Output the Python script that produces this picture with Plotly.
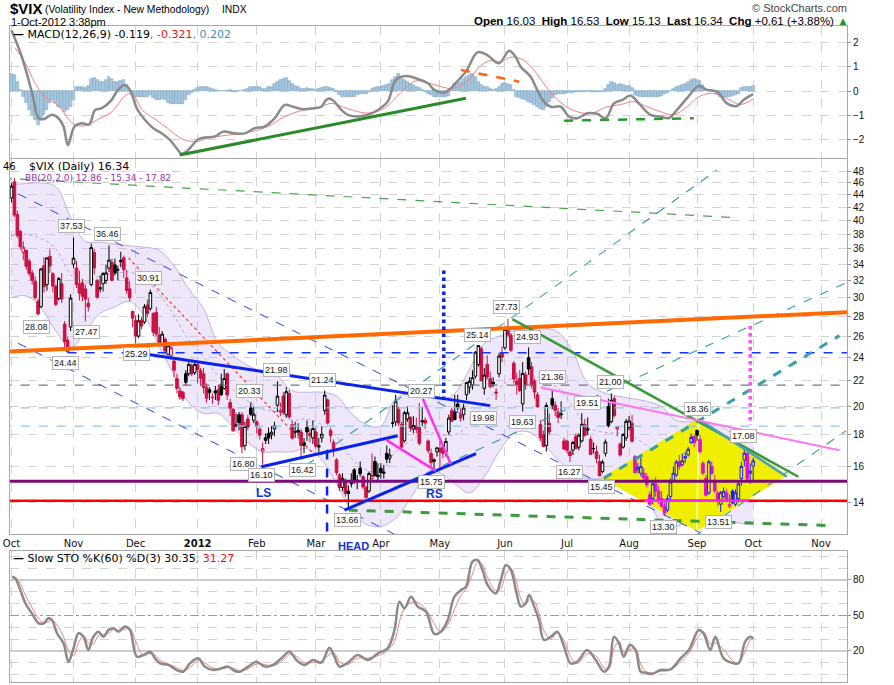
import numpy as np
import plotly.graph_objects as go

# x axis = trading-day number: 0 = 3-Oct-2011 ... 251 = 1-Oct-2012
month_pos = [0, 21, 42, 63, 83, 103, 125, 145, 167, 188, 209, 232, 251, 274]
month_lbl = ['Oct', 'Nov', 'Dec', '<b>2012</b>', 'Feb', 'Mar', 'Apr', 'May',
             'Jun', 'Jul', 'Aug', 'Sep', 'Oct', 'Nov']
price_ticks = list(range(14, 50, 2))

# daily $VIX candles
vix_open = [
    43.5, 46.2, 40.9, 38.4, 35.5, 35.8, 34.4, 32.9, 31.9, 29.6, 29.0, 33.8, 31.5, 35.0, 32.8, 31.3, 29.9, 31.6, 27.2, 25.6, 26.9,
    34.0, 33.5, 31.6, 31.7, 31.0, 29.4, 31.5, 35.5, 32.0, 31.0, 31.6, 32.0, 33.5, 34.2, 33.9, 33.3, 34.3, 34.8, 32.3, 31.0, 28.5,
    27.6, 26.0, 27.6, 27.4, 29.2, 28.8, 28.3, 28.4, 26.1, 25.3, 25.7, 24.3, 24.2, 23.7, 22.2, 21.2, 21.1, 22.6, 22.6, 23.3, 22.7,
    23.4, 22.9, 22.6, 21.5, 21.3, 20.7, 21.2, 21.3, 21.7, 21.4, 22.6, 20.3, 19.8, 18.6, 19.4, 19.4, 17.3, 19.1, 19.9, 19.0,
    18.9, 18.4, 16.9, 17.8, 18.1, 18.0, 18.4, 20.1, 19.6, 20.8, 19.4, 21.0, 18.7, 18.2, 18.3, 18.2, 17.5, 18.5, 18.1, 17.8,
    18.2, 17.2, 17.8, 19.7, 20.5, 18.3, 17.5, 16.4, 15.5, 14.8, 15.2, 14.6, 15.0, 15.8, 15.2, 15.9, 15.4, 14.8, 14.6, 15.3, 16.3, 15.4,
    15.9, 15.6, 16.8, 16.5, 18.8, 18.9, 19.8, 18.7, 17.6, 19.1, 19.2, 18.4, 18.6, 18.5, 18.9, 19.0, 17.6, 16.8, 16.4, 16.9,
    17.1, 17.2, 16.9, 18.2, 19.7, 19.6, 20.2, 19.4, 19.4, 20.9, 21.5, 21.7, 22.4, 23.4, 24.8, 21.4, 23.4, 22.2, 21.9, 21.1, 22.6, 24.4,
    24.9, 26.8, 26.1, 23.5, 22.0, 22.2, 20.2, 22.5, 24.0, 23.2, 22.0, 20.9, 18.7, 18.0, 17.3, 18.8, 20.6, 20.1, 19.6, 19.4, 17.6,
    17.6, 16.9, 17.0, 17.9, 17.2, 17.6, 18.7, 18.4, 17.7, 17.1, 16.9, 16.3, 15.7, 16.8, 20.0, 18.9, 20.6, 18.4, 17.4, 17.2, 17.8,
    18.5, 18.8, 16.6, 15.8, 15.6, 15.6, 15.4, 14.4, 14.2, 15.0, 14.6, 14.2, 13.8, 13.6, 14.3, 15.2, 15.5, 16.3, 16.1, 16.5, 16.7, 17.5, 17.9,
    18.3, 17.7, 16.2, 15.3, 14.5, 16.0, 15.1, 14.5, 13.9, 14.3, 14.5, 13.8, 14.6, 13.9, 14.2, 15.3, 16.4, 16.8, 15.6,
    16.03,
]
vix_high = [
    46.0, 46.88, 41.5, 38.6, 37.0, 35.9, 34.7, 33.3, 32.5, 29.9, 33.5, 34.9, 34.9, 35.9, 33.0, 31.5, 32.4, 32.9, 27.5, 25.9, 30.4,
    37.53, 34.4, 33.2, 32.2, 31.5, 30.0, 36.7, 36.0, 32.2, 32.6, 33.0, 33.9, 36.46, 34.7, 34.7, 33.8, 35.6, 35.1, 33.3, 31.9, 28.6,
    28.1, 28.2, 27.9, 29.3, 29.8, 30.91, 28.4, 29.0, 26.9, 26.5, 25.9, 25.4, 25.2, 23.8, 22.6, 21.5, 21.2, 22.9, 23.6, 23.5, 23.6,
    23.5, 23.1, 23.1, 21.8, 21.5, 21.0, 21.6, 21.7, 22.6, 23.0, 22.7, 20.6, 19.9, 19.5, 19.6, 19.6, 18.9, 19.4, 20.33, 20.0,
    19.0, 18.5, 17.5, 18.1, 18.5, 18.6, 18.9, 21.98, 20.3, 21.1, 21.5, 21.3, 19.0, 18.9, 18.8, 18.4, 17.8, 19.0, 18.4, 19.0,
    18.5, 17.8, 18.6, 21.24, 20.6, 18.5, 17.7, 16.5, 15.6, 15.6, 15.3, 14.9, 15.6, 15.9, 15.5, 16.3, 15.5, 14.9, 15.7, 16.8, 16.6, 16.2,
    16.2, 16.1, 17.3, 17.1, 20.1, 20.9, 20.0, 18.9, 19.7, 20.0, 19.3, 19.3, 19.2, 20.27, 20.0, 19.2, 17.7, 17.1, 16.5, 17.2,
    17.6, 17.4, 17.8, 19.4, 19.9, 20.9, 20.9, 19.9, 20.2, 21.9, 22.3, 22.9, 24.6, 25.14, 25.0, 23.1, 24.2, 22.8, 22.3, 21.4, 24.4, 25.0,
    26.9, 27.73, 26.3, 23.7, 22.7, 22.9, 23.6, 22.8, 24.93, 23.6, 22.2, 21.1, 19.0, 18.3, 20.3, 19.5, 21.36, 20.4, 19.9, 20.4, 17.8,
    17.7, 17.0, 17.6, 18.1, 18.1, 19.51, 19.1, 19.2, 17.9, 17.5, 17.3, 16.7, 16.4, 17.7, 20.6, 21.00, 20.8, 18.6, 17.5, 18.1, 19.1,
    19.3, 19.4, 16.7, 16.2, 16.6, 15.9, 15.6, 14.6, 15.2, 15.4, 14.9, 14.6, 14.0, 14.4, 15.3, 16.0, 16.4, 16.7, 16.8, 16.9, 17.2, 18.1, 18.0,
    18.36, 18.0, 16.3, 15.5, 16.4, 16.3, 15.5, 14.6, 14.6, 14.8, 14.7, 14.4, 14.7, 14.7, 15.1, 16.3, 17.08, 16.9, 16.2,
    16.53,
]
vix_low = [
    42.8, 40.5, 37.5, 35.9, 34.5, 33.3, 32.5, 31.5, 29.8, 28.08, 28.9, 30.6, 30.8, 32.9, 30.6, 29.1, 29.7, 29.4, 24.9, 24.44, 26.5,
    33.5, 31.1, 29.7, 29.6, 27.47, 28.5, 31.3, 32.7, 29.9, 30.6, 30.7, 31.6, 33.0, 32.0, 32.6, 32.0, 33.6, 32.3, 30.4, 29.6, 26.9,
    25.29, 25.8, 26.7, 27.2, 27.9, 28.6, 26.0, 26.0, 25.3, 25.0, 24.4, 24.2, 23.8, 22.3, 21.0, 20.5, 20.4, 21.6, 22.4, 22.4, 22.5,
    21.8, 21.6, 21.0, 20.3, 20.5, 20.2, 20.5, 20.1, 20.8, 21.3, 20.5, 19.3, 18.2, 18.5, 18.3, 16.80, 17.0, 18.3, 19.3, 18.8,
    18.1, 17.7, 16.10, 17.4, 17.4, 17.7, 17.9, 19.6, 19.3, 19.4, 19.2, 19.1, 17.7, 17.8, 17.9, 16.42, 16.8, 17.6, 17.5, 17.4,
    17.1, 16.9, 17.5, 19.4, 18.7, 17.5, 16.6, 15.5, 14.6, 14.6, 14.3, 13.66, 14.8, 15.0, 14.7, 15.4, 14.7, 14.2, 14.5, 15.2, 15.4, 15.1,
    15.3, 15.3, 16.2, 16.2, 18.5, 18.6, 18.6, 17.1, 17.5, 18.9, 18.2, 18.1, 18.1, 17.3, 18.6, 18.4, 16.8, 15.9, 15.75, 16.6,
    15.9, 16.5, 16.6, 18.0, 18.9, 19.3, 19.7, 18.9, 19.0, 20.5, 21.0, 21.3, 22.2, 23.2, 22.0, 20.9, 22.1, 21.4, 21.5, 20.5, 22.3, 23.6,
    24.7, 25.9, 24.5, 21.8, 20.9, 21.1, 19.63, 21.3, 22.5, 21.4, 20.6, 19.9, 17.6, 17.2, 16.9, 18.0, 19.8, 19.3, 18.8, 19.1, 17.0,
    16.8, 16.27, 16.7, 17.1, 17.0, 17.5, 17.9, 18.0, 16.7, 16.8, 16.2, 15.45, 15.6, 16.6, 18.5, 18.8, 19.2, 17.9, 16.6, 17.1, 17.6,
    18.3, 17.5, 15.6, 15.6, 15.4, 15.2, 14.8, 13.8, 13.9, 14.3, 13.9, 13.7, 13.30, 13.5, 14.1, 15.1, 15.4, 15.8, 16.0, 16.2, 16.6, 17.4, 17.2,
    17.6, 16.8, 15.5, 14.3, 14.4, 15.5, 14.5, 13.8, 13.51, 14.2, 14.0, 13.7, 13.9, 13.8, 14.0, 14.9, 16.0, 15.1, 15.0,
    15.13,
]
vix_close = [
    45.45, 40.82, 37.81, 36.27, 36.20, 33.74, 32.86, 32.00, 30.00, 28.24, 33.39, 31.26, 34.78, 33.76, 31.32, 29.26, 32.22, 29.86, 25.46, 24.53, 29.96,
    34.77, 31.50, 30.50, 30.16, 29.85, 29.00, 36.16, 33.50, 30.04, 31.13, 32.82, 32.91, 34.51, 32.00, 32.91, 33.28, 34.47, 33.30, 30.80, 30.00, 27.80,
    26.00, 27.52, 27.00, 29.00, 28.30, 30.59, 26.38, 26.20, 25.40, 26.20, 24.60, 25.10, 24.90, 22.90, 21.40, 20.73, 20.60, 21.90, 23.40, 22.60, 23.40,
    22.97, 22.22, 21.48, 20.63, 21.07, 20.69, 21.05, 20.47, 20.91, 22.20, 20.89, 19.87, 18.28, 18.67, 18.84, 17.22, 18.57, 18.53, 19.44, 19.44,
    18.56, 17.98, 17.10, 17.63, 17.79, 18.18, 18.63, 20.79, 19.70, 19.55, 21.14, 19.24, 17.78, 18.19, 18.19, 17.31, 17.31, 18.19, 17.96, 18.43,
    17.26, 17.29, 18.05, 20.87, 18.81, 17.95, 17.11, 15.64, 14.80, 15.31, 14.47, 14.47, 15.04, 15.13, 15.13, 15.57, 14.82, 14.26, 15.59, 15.47, 15.48, 15.50,
    15.64, 15.66, 16.44, 16.70, 18.81, 20.39, 18.81, 17.20, 19.55, 19.55, 18.46, 18.64, 18.36, 17.44, 18.97, 18.81, 16.97, 16.24, 16.32, 17.15,
    16.88, 16.80, 17.56, 19.16, 18.94, 19.05, 19.89, 19.16, 19.89, 21.87, 21.97, 22.27, 24.49, 25.10, 22.01, 22.48, 22.33, 21.54, 21.76, 21.03, 24.14, 24.06,
    26.66, 26.12, 24.68, 22.16, 21.72, 21.23, 22.63, 21.68, 23.00, 21.68, 21.11, 20.00, 17.80, 17.24, 20.08, 18.20, 20.11, 19.72, 19.20, 19.45, 17.08,
    17.00, 16.66, 17.50, 17.10, 17.98, 18.72, 17.95, 18.33, 16.74, 17.11, 16.48, 15.45, 16.27, 17.53, 18.62, 20.47, 19.34, 18.53, 16.70, 18.03, 18.93,
    18.96, 17.57, 15.64, 15.95, 15.99, 15.32, 14.95, 13.90, 15.00, 14.60, 14.10, 13.80, 13.45, 14.20, 15.11, 15.60, 16.27, 16.00, 16.35, 16.60, 17.06, 17.83, 17.47,
    17.98, 16.90, 15.60, 14.38, 16.28, 15.60, 14.60, 14.05, 14.51, 14.59, 14.18, 13.88, 13.98, 14.51, 15.00, 16.00, 16.81, 15.28, 15.73,
    16.34,
]

# Bollinger Bands (20,2) sampled every 5 sessions
bb_day = list(range(0, 250, 5)) + [251]
bb_upper = [45.7, 45.9, 46.0, 45.4, 40.5, 37.0, 36.9, 36.6, 36.4, 36.2, 35.8, 33.8, 31.0, 28.8, 25.3, 24.2, 23.3,
            22.8, 22.4, 21.2, 21.1, 21.1, 20.8, 19.5, 18.7, 18.6, 20.6, 21.0, 21.0, 20.5, 21.0, 23.0, 25.3, 26.0,
            26.5, 26.8, 26.8, 26.4, 24.5, 21.8, 21.1, 20.8, 20.6, 20.4, 20.0, 19.0, 18.9, 18.8, 18.6, 18.0, 17.82]
bb_mid = [37.8, 38.0, 37.4, 36.0, 32.7, 31.7, 32.6, 32.8, 33.0, 32.1, 30.4, 28.1, 25.6, 24.1, 22.4, 21.3, 20.4,
          19.8, 19.6, 19.0, 19.1, 18.7, 17.9, 16.5, 15.8, 15.7, 16.9, 17.6, 18.2, 18.0, 18.0, 18.7, 20.3, 21.4,
          22.3, 22.5, 22.1, 21.4, 20.0, 18.5, 18.2, 18.1, 17.9, 17.3, 16.5, 15.9, 16.0, 16.1, 15.9, 15.5, 15.34]
bb_lower = [30.0, 30.2, 28.9, 26.5, 24.9, 26.5, 28.3, 29.0, 29.6, 28.0, 25.0, 22.5, 20.3, 19.5, 19.5, 18.5, 17.5,
            16.9, 16.9, 16.9, 17.1, 16.4, 15.0, 13.6, 12.9, 12.8, 13.2, 14.2, 15.4, 15.6, 15.0, 14.5, 15.4, 16.9,
            18.1, 18.2, 17.4, 16.4, 15.6, 15.3, 15.3, 15.5, 15.2, 14.2, 13.0, 12.8, 13.2, 13.4, 13.2, 13.0, 12.86]

# MACD(12,26,9)
macd_day = [0, 3.5, 7.0, 9.2, 10.9, 13.7, 15.9, 17.6, 19.1, 20.4, 21.3, 23.8, 26.3, 28.3, 30.6, 33.9, 35.6, 38.2,
            40.1, 42.4, 45.2, 48.0, 50.8, 53.6, 55.9, 57.6, 59.8, 63.2, 65.4, 68.8, 71.6, 75.6, 78.9, 82.3, 85.7,
            89.1, 92.4, 95.3, 98.6, 102.0, 104.8, 106.5, 107.6, 109.3, 111.6, 113.8, 117.2, 120.6, 124.0, 127.3,
            130.1, 133.5, 137.5, 140.9, 143.1, 146.5, 148.7, 150.2, 153.8, 157.7, 161.0, 165.0, 168.4, 170.6,
            172.3, 175.7, 177.9, 180.2, 182.5, 185.9, 188.7, 191.5, 194.9, 198.2, 201.1, 203.9, 206.7, 209.5,
            212.3, 216.2, 219.6, 222.4, 225.2, 228.6, 232.6, 235.4, 238.8, 242.1, 245.5, 247.7, 251]
macd_val = [2.50, 1.41, -0.09, -1.11, -1.15, -0.97, -1.11, -1.45, -2.22, -1.73, -1.45, -1.32, -1.36, -0.77, -0.70,
            -0.36, -0.02, 0.25, 0.05, -0.70, -1.18, -1.52, -1.73, -2.00, -2.34, -2.57, -2.41, -1.97, -1.90, -1.86,
            -1.66, -1.73, -1.73, -1.52, -1.45, -1.11, -0.57, -0.64, -0.74, -0.70, -0.64, -0.36, -0.30, -0.43, -0.77,
            -0.97, -1.04, -0.97, -0.77, -0.43, 0.46, 0.62, 0.50, 0.32, 0.05, -0.06, 0.12, 0.32, 0.80, 1.59, 1.48,
            1.14, 1.66, 1.41, 1.00, 0.59, 0.05, -0.43, -0.64, -0.64, -1.05, -1.11, -0.91, -0.93, -1.11, -0.50,
            -0.36, -0.18, -0.50, -0.97, -1.04, -1.11, -0.77, -0.29, 0.21, 0.05, -0.02, -0.50, -0.61, -0.36, -0.12]
sig_day = [1.3, 4.7, 8.0, 11.4, 15.9, 21.0, 25.0, 29.4, 33.9, 38.4, 40.7, 44.5, 48.6, 53.1, 57.6, 62.1, 66.6,
           73.3, 78.9, 86.8, 92.4, 98.1, 103.7, 108.2, 113.8, 120.6, 126.2, 131.8, 136.9, 142.0, 148.7, 150.8,
           154.3, 158.8, 162.2, 165.6, 169.5, 173.5, 176.9, 180.2, 184.7, 190.4, 196.0, 201.6, 206.1, 210.6,
           215.1, 219.6, 224.1, 228.6, 233.1, 237.6, 242.1, 246.6, 251.0]
sig_val = [1.76, 1.14, 0.32, -0.25, -0.60, -1.35, -1.42, -1.15, -0.85, -0.20, -0.10, -0.80, -1.15, -1.55, -1.95,
           -2.07, -1.93, -1.80, -1.73, -1.45, -1.05, -0.80, -0.70, -0.50, -0.72, -0.90, -0.70, -0.05, 0.42, 0.30,
           0.10, 0.16, 0.40, 1.05, 1.25, 1.21, 1.40, 1.25, 0.85, 0.30, -0.35, -0.80, -0.91, -0.64, -0.55, -0.43,
           -0.64, -0.84, -0.97, -0.64, -0.20, -0.09, -0.30, -0.55, -0.32]
macd_hist = [
    0.72, 0.66, 0.38, 0.04, -0.23, -0.50, -0.78, -0.98, -1.19, -1.39, -1.19, -0.98, -0.78, -0.50, -0.37, -0.50, -0.64, -0.71, -0.85, -0.78,
    -0.64, -0.37, 0.15, 0.18, 0.15, 0.11, 0.20, 0.48, 0.52, 0.45, 0.38, 0.38, 0.45, 0.56, 0.48, 0.38, 0.38, 0.42, 0.45, 0.25,
    -0.03, -0.16, -0.26, -0.26, -0.23, -0.23, -0.26, -0.16, -0.30, -0.37, -0.37, -0.34, -0.37, -0.48, -0.53, -0.53, -0.53, -0.53, -0.53, -0.37,
    -0.16, -0.07, 0.04, 0.11, 0.15, 0.15, 0.15, 0.11, 0.07, 0.04, 0.01, 0.01, 0.01, 0.01, 0.04, -0.03, -0.03, 0.00, 0.01, 0.04,
    0.10, 0.15, 0.15, 0.18, 0.15, 0.10, 0.07, 0.15, 0.18, 0.29, 0.38, 0.45, 0.48, 0.52, 0.42, 0.31, 0.20, 0.15, 0.07, 0.07,
    0.11, 0.10, 0.07, 0.04, 0.07, 0.11, 0.15, 0.15, 0.12, 0.07, -0.03, -0.16, -0.26, -0.26, -0.26, -0.23, -0.23, -0.16, -0.12, -0.12,
    -0.10, -0.03, 0.07, 0.11, 0.15, 0.15, 0.20, 0.25, 0.31, 0.45, 0.59, 0.70, 0.56, 0.45, 0.38, 0.31, 0.25, 0.15, 0.11, 0.04,
    -0.03, -0.10, -0.16, -0.23, -0.23, -0.23, -0.26, -0.23, -0.20, 0.05, 0.31, 0.34, 0.38, 0.48, 0.59, 0.66, 0.70, 0.56, 0.38, 0.25,
    0.15, 0.15, 0.07, 0.04, 0.07, 0.15, 0.29, 0.34, 0.30, 0.25, 0.04, -0.23, -0.30, -0.34, -0.37, -0.44, -0.50, -0.57, -0.66, -0.72,
    -0.78, -0.64, -0.44, -0.30, -0.16, -0.10, -0.10, -0.10, -0.08, -0.07, -0.07, -0.05, -0.05, -0.04, -0.02, 0.00, -0.02, -0.03, -0.03, -0.02,
    -0.02, 0.10, 0.25, 0.38, 0.34, 0.25, 0.29, 0.25, 0.22, 0.20, 0.11, -0.16, -0.20, -0.23, -0.23, -0.23, -0.23, -0.23, -0.23, -0.23,
    -0.20, -0.10, -0.07, 0.01, 0.10, 0.15, 0.20, 0.25, 0.31, 0.38, 0.45, 0.48, 0.45, 0.42, 0.25, 0.07, 0.04, 0.04, -0.03, -0.16,
    -0.23, -0.26, -0.26, -0.24, -0.20, -0.16, -0.10, 0.11, 0.15, 0.18, 0.19, 0.20,
]

# Slow STO %K(60) %D(3)
sto_day = [0.2, 1.3, 3.0, 4.7, 6.9, 9.2, 10.9, 12.5, 13.7, 15.4, 17.6, 19.3, 21.0, 22.7, 24.4, 26.0, 27.7, 29.4,
           31.1, 32.8, 34.5, 36.2, 38.4, 40.1, 42.4, 44.6, 46.9, 48.6, 50.3, 53.1, 55.9, 58.1, 60.4, 63.2, 65.4,
           68.3, 71.1, 73.3, 75.6, 77.3, 80.1, 82.9, 85.7, 88.5, 91.3, 94.1, 96.4, 99.2, 102.0, 104.8, 107.6,
           109.3, 111.0, 113.8, 117.2, 120.6, 124.0, 127.3, 129.6, 131.3, 133.0, 135.2, 137.5, 140.3, 143.1,
           145.3, 147.6, 149.9, 152.1, 153.8, 156.0, 157.7, 159.4, 161.1, 163.9, 165.6, 167.3, 169.0, 170.7,
           172.4, 174.0, 175.2, 176.9, 178.5, 180.2, 182.5, 184.7, 187.0, 189.2, 191.5, 194.8, 197.7, 200.5,
           202.2, 203.9, 205.6, 207.2, 209.3, 211.2, 212.9, 214.5, 216.8, 219.6, 223.0, 226.4, 229.2, 232.6,
           234.2, 236.5, 238.2, 241.0, 244.4, 246.1, 248.3, 250.0, 251.1]
sto_k = [82.8, 81.4, 71.5, 60.3, 51.8, 43.4, 43.4, 47.6, 46.2, 35.0, 26.5, 11.0, 22.3, 35.0, 32.0, 20.8, 32.0, 36.3,
         32.0, 37.7, 39.2, 36.3, 40.6, 37.7, 15.2, 16.6, 19.4, 13.8, 9.6, 8.2, 3.9, 2.5, 9.6, 13.8, 6.8, 3.9, 5.4,
         6.8, 3.1, 2.5, 6.8, 11.0, 6.8, 8.2, 13.8, 19.4, 12.4, 8.2, 12.4, 10.1, 22.8, 15.2, 6.8, 10.1, 16.6, 12.4,
         18.0, 22.3, 37.7, 61.7, 56.0, 65.9, 57.5, 53.2, 34.4, 36.3, 46.0, 65.9, 71.5, 74.4, 95.5, 96.9, 88.5,
         75.8, 68.7, 80.0, 92.7, 88.5, 71.5, 57.5, 60.3, 67.3, 57.5, 46.2, 29.3, 32.1, 36.3, 23.7, 9.6, 11.0, 20.8,
         12.4, 2.5, 6.8, 32.1, 26.5, 15.2, 25.0, 20.8, 2.5, 1.7, 0.6, 3.9, 4.5, 13.8, 20.8, 37.7, 34.9, 20.8, 32.1,
         13.8, 9.6, 9.6, 27.9, 32.1, 30.4]
sto_d = [80.0, 82.0, 77.0, 67.0, 57.0, 47.0, 44.0, 44.5, 46.5, 42.0, 32.0, 20.0, 16.0, 27.0, 33.0, 27.0, 26.0, 33.0,
         34.0, 35.0, 38.0, 37.5, 38.5, 39.0, 26.0, 16.0, 18.0, 16.5, 12.0, 9.0, 6.0, 3.5, 6.0, 12.0, 10.0, 5.5, 4.8,
         6.0, 5.0, 3.0, 5.0, 9.0, 8.5, 7.5, 11.0, 17.0, 15.5, 10.0, 10.5, 11.0, 17.0, 18.0, 11.0, 8.5, 14.0, 14.0,
         16.0, 20.5, 28.0, 45.0, 56.0, 61.0, 61.0, 55.0, 43.0, 36.0, 42.0, 55.0, 67.0, 72.0, 85.0, 95.0, 93.0,
         82.0, 71.0, 73.0, 85.0, 90.0, 80.0, 64.0, 59.0, 63.0, 62.0, 52.0, 37.0, 30.0, 35.0, 29.0, 15.0, 9.5, 17.5,
         16.0, 6.0, 5.0, 22.0, 28.0, 19.0, 21.0, 22.0, 9.0, 3.0, 1.5, 2.8, 4.0, 11.0, 18.0, 33.0, 36.0, 26.0, 27.0,
         21.0, 11.0, 9.8, 20.0, 29.0, 31.3]

# hand-drawn lines on the price panel: ([day, day], [price, price])
ln_orange = ([-3.2, 289.2], [24.51, 28.52])
ln_green_top = ([-3.2, 245.2], [46.83, 40.43])
ln_chan_upper = ([-3.2, 233.1], [45.5, 12.5])
ln_chan_lower = ([-3.2, 144.3], [26.1, 11.45])
ln_red_dotted = ([39.6, 102.0], [34.8, 16.81])
ln_neck_top = ([46.4, 162.0], [24.29, 20.07])
ln_neck_ls = ([84.6, 130.7], [15.98, 17.94])
ln_neck_head = ([112.7, 157.2], [13.6, 16.78])
ln_mag_a = ([126.8, 143.6], [17.67, 15.74])
ln_mag_b = ([139.2, 148.7], [20.6, 16.14])
ln_fan_a = ([99.8, 238.8], [16.07, 48.3])
ln_fan_b = ([112.7, 282.7], [13.6, 31.75])
ln_fan_c = ([200.5, 280.2], [15.32, 26.05])
ln_fan_d = ([230.9, 282.4], [12.31, 18.28])
ln_green_fall = ([169.5, 266.3], [27.7, 15.4])
ln_teal_fall = ([232.5, 262.4], [19.1, 15.4])
ln_pink = ([179.1, 280.2], [21.48, 17.0])
ln_pink_vert = ([250, 250], [27.0, 18.7])
ln_blue_vert = ([146.3, 146.3], [33.2, 20.5])
ln_head_vert = ([106.8, 106.8], [16.98, 11.0])
ln_green_floor = ([114.1, 277.0], [13.6, 12.84])
# horizontal levels: ([from day, to day], price)
lvl_purple = ([-3, 290], 15.15)
lvl_red = ([-3, 290], 14.08)
lvl_red_in_box = ([214.0, 249.5], 14.08)
lvl_blue = ([19, 290], 24.44)
lvl_gray = ([-3, 290], 21.66)
lvl_sky1 = ([-3, 290], 19.9)
lvl_sky2 = ([-3, 290], 18.6)
# yellow box (days, prices) and the first session drawn in its tint
box_day = [199.9, 232.5, 262.4, 232.0, 199.9]
box_px = [15.32, 19.1, 15.5, 12.6, 15.32]
tint_from, tint_gap = 211, 232

# lines on the MACD panel
mln_green = ([56.9, 153.8], [-2.62, -0.29])
mln_orange = ([152.1, 171.8], [0.869, 0.389])
mln_green_dash = ([187.0, 230.9], [-1.21, -1.11])

# price labels in boxes
tag_text = ['37.53', '36.46', '30.91', '28.08', '27.47', '24.44', '25.29', '21.98', '21.24', '20.33', '16.80',
            '16.10', '16.42', '13.66', '20.27', '15.75', '25.14', '27.73', '24.93', '19.98', '19.63', '21.36',
            '19.51', '21.00', '16.27', '15.45', '18.36', '17.08', '13.30', '13.51']
tag_day = [20.4, 32.6, 46.3, 8.6, 25.5, 18.4, 42.4, 89.6, 105.4, 80.6, 78.4, 84.6, 98.4, 113.6, 138.8, 142.0,
           157.7, 167.6, 174.6, 159.8, 172.9, 183.0, 194.9, 202.7, 188.7, 199.6, 232.0, 247.7, 220.5, 239.3]
tag_at = [39.2, 38.0, 32.3, 26.9, 26.4, 23.5, 24.3, 22.9, 22.1, 21.2, 16.15, 15.5, 15.8, 13.1, 21.2, 15.1, 26.1,
          29.0, 25.95, 19.2, 18.9, 22.3, 20.3, 21.9, 15.7, 14.85, 19.85, 17.9, 12.78, 13.0]

# ---------------------------------------------------------------------------
days = np.arange(len(vix_close))
o, h, l, c = (np.array(v) for v in (vix_open, vix_high, vix_low, vix_close))
prev_c = np.concatenate([[c[0] - 1], c[:-1]])
up_day = c >= prev_c
tinted = (days >= tint_from) & (days != tint_gap)


def candles(mask, color, hollow):
    return go.Candlestick(x=days[mask], open=o[mask], high=h[mask], low=l[mask], close=c[mask],
                          increasing=dict(line=dict(color=color, width=1), fillcolor=hollow),
                          decreasing=dict(line=dict(color=color, width=1), fillcolor=color),
                          whiskerwidth=0, xaxis='x', yaxis='y4', hoverinfo='skip', showlegend=False)


def line(xy, color, width, dash='solid', yaxis='y4', xaxis='x'):
    return go.Scatter(x=xy[0], y=xy[1], mode='lines', line=dict(color=color, width=width, dash=dash),
                      xaxis=xaxis, yaxis=yaxis, hoverinfo='skip', showlegend=False)


def level(lv, color, width, dash='solid'):
    return line((lv[0], [lv[1], lv[1]]), color, width, dash)


fig = go.Figure()

# base price layer: Bollinger cloud and yellow box (below the candles)
fig.add_trace(go.Scatter(x=bb_day, y=bb_upper, mode='lines', line=dict(color='#c3aee6', width=1, shape='spline'),
                         hoverinfo='skip', showlegend=False))
fig.add_trace(go.Scatter(x=bb_day, y=bb_lower, mode='lines', line=dict(color='#c3aee6', width=1, shape='spline'),
                         fill='tonexty', fillcolor='rgba(196,176,236,0.30)', hoverinfo='skip', showlegend=False))
fig.add_trace(go.Scatter(x=bb_day, y=bb_mid, mode='lines', line=dict(color='#b9a3e0', width=1, dash='dot', shape='spline'),
                         hoverinfo='skip', showlegend=False))
fig.add_trace(go.Scatter(x=box_day, y=box_px, mode='lines', fill='toself', fillcolor='#f0ef00',
                         line=dict(color='#f0ef00', width=1), hoverinfo='skip', showlegend=False))
fig.add_trace(go.Scatter(x=[box_day[3], box_day[1]], y=[box_px[3], box_px[1]], mode='lines',
                         line=dict(color='white', width=1.5), hoverinfo='skip', showlegend=False))

# candles (overlay layer)
fig.add_trace(candles(~up_day & ~tinted, '#cc1144', 'white'))
fig.add_trace(candles(up_day & ~tinted, '#000000', 'white'))
fig.add_trace(candles(~up_day & tinted, '#e010d8', 'rgba(0,0,0,0)'))
fig.add_trace(candles(up_day & tinted, '#1a1aff', 'rgba(0,0,0,0)'))

# annotation lines
fig.add_trace(level(lvl_gray, '#777777', 1.2, 'dash'))
fig.add_trace(level(lvl_sky1, '#8cc8f0', 1.2, 'dash'))
fig.add_trace(level(lvl_sky2, '#8cc8f0', 1.2, 'dash'))
fig.add_trace(level(lvl_blue, '#1133ff', 1.3, 'dash'))
fig.add_trace(line(ln_green_top, '#44a844', 1.2, 'dash'))
fig.add_trace(line(ln_chan_upper, '#2244ee', 1, 'dash'))
fig.add_trace(line(ln_chan_lower, '#2244ee', 1, 'dash'))
fig.add_trace(line(ln_red_dotted, '#ff3322', 1.2, 'dot'))
fig.add_trace(line(ln_fan_a, '#3399aa', 1.1, 'dash'))
fig.add_trace(line(ln_fan_b, '#3399aa', 1.1, 'dash'))
fig.add_trace(line(ln_fan_d, '#3399aa', 1.1, 'dash'))
fig.add_trace(line(ln_fan_c, '#3a9ea6', 3, 'dash'))
fig.add_trace(line(ln_green_floor, '#3c9c3c', 3, 'dash'))
fig.add_trace(level(lvl_purple, '#7a0a7a', 3))
fig.add_trace(level(lvl_red, '#ff0000', 2.5))
fig.add_trace(level(lvl_red_in_box, '#ff22ff', 2.5))
fig.add_trace(line(ln_orange, '#ff6a00', 4))
fig.add_trace(line(ln_neck_top, '#0a22ee', 3))
fig.add_trace(line(ln_neck_ls, '#0a22ee', 3))
fig.add_trace(line(ln_neck_head, '#0a22ee', 3))
fig.add_trace(line(ln_mag_a, '#ff33ee', 2.5))
fig.add_trace(line(ln_mag_b, '#ff33ee', 2.5))
fig.add_trace(line(ln_green_fall, '#3a9a3a', 2.5))
fig.add_trace(line(ln_teal_fall, '#4aa0c0', 2.5))
fig.add_trace(line(ln_pink, '#ff77ee', 2))
fig.add_trace(line(ln_pink_vert, '#ff55ee', 3.5, 'dot'))
fig.add_trace(line(ln_blue_vert, '#0a22ee', 3.5, 'dot'))
fig.add_trace(line(ln_head_vert, '#0a22ee', 2.5, 'dash'))

# MACD panel
fig.add_trace(go.Bar(x=days, y=macd_hist, width=1, xaxis='x2', yaxis='y2',
                     marker=dict(color='#a9c8de', line=dict(color='#7fa6c4', width=0.6)),
                     hoverinfo='skip', showlegend=False))
fig.add_trace(go.Scatter(x=sig_day, y=sig_val, mode='lines', xaxis='x2', yaxis='y2',
                         line=dict(color='#f08080', width=1, shape='spline'), hoverinfo='skip', showlegend=False))
fig.add_trace(go.Scatter(x=macd_day, y=macd_val, mode='lines', xaxis='x2', yaxis='y2',
                         line=dict(color='#8a8a8a', width=2.5, shape='spline'), hoverinfo='skip', showlegend=False))
fig.add_trace(line(mln_green, '#2a8a2a', 3, yaxis='y2', xaxis='x2'))
fig.add_trace(line(mln_orange, '#ff6611', 2.5, 'dash', yaxis='y2', xaxis='x2'))
fig.add_trace(line(mln_green_dash, '#2a9a2a', 2.5, 'dash', yaxis='y2', xaxis='x2'))

# Slow stochastic panel
fig.add_trace(go.Scatter(x=sto_day, y=sto_d, mode='lines', xaxis='x3', yaxis='y3',
                         line=dict(color='#f08080', width=1, shape='spline'), hoverinfo='skip', showlegend=False))
fig.add_trace(go.Scatter(x=sto_day, y=sto_k, mode='lines', xaxis='x3', yaxis='y3',
                         line=dict(color='#8a8a8a', width=2.5, shape='spline'), hoverinfo='skip', showlegend=False))

grid = dict(showgrid=True, gridcolor='#d2d2d2', griddash='dash', gridwidth=1, zeroline=False)
frame = dict(showline=True, mirror=True, linecolor='#a8a8a8', linewidth=1)
yfont = dict(family='Arial', size=10, color='#111')
xr = [-0.5, 282.75]
pr = [np.log10(12.43), np.log10(50.3)]

fig.update_layout(
    width=894, height=685, margin=dict(l=8, r=47, t=26, b=3),
    paper_bgcolor='white', plot_bgcolor='white', showlegend=False, bargap=0, boxgap=0.12, boxgroupgap=0,
    xaxis=dict(domain=[0, 1], anchor='y', range=xr, tickmode='array', tickvals=month_pos, ticktext=month_lbl,
               ticks='', tickfont=dict(family='DejaVu Sans', size=10, color='#111'),
               rangeslider=dict(visible=False), **grid, **frame),
    yaxis=dict(domain=[0.2252, 0.7973], anchor='x', type='log', range=pr, side='right', tickmode='array',
               tickvals=price_ticks, ticks='outside', ticklen=3, tickcolor='#999', tickfont=yfont, **grid, **frame),
    yaxis4=dict(overlaying='y', anchor='x', type='log', range=pr, visible=False),
    xaxis2=dict(domain=[0, 1], anchor='y2', range=xr, tickmode='array', tickvals=month_pos, showticklabels=False,
                ticks='', **grid, **frame),
    yaxis2=dict(domain=[0.7988, 1], anchor='x2', range=[-2.74, 2.67], side='right', tickmode='array',
                tickvals=[-2, -1, 0, 1, 2], ticks='outside', ticklen=3, tickcolor='#999', tickfont=yfont,
                **grid, **frame),
    xaxis3=dict(domain=[0, 1], anchor='y3', range=xr, tickmode='array', tickvals=month_pos, showticklabels=False,
                ticks='', **grid, **frame),
    yaxis3=dict(domain=[0, 0.1997], anchor='x3', range=[-6.2, 104.5], side='right', tickmode='array',
                tickvals=[20, 50, 80], ticks='outside', ticklen=3, tickcolor='#999', tickfont=yfont,
                showgrid=False, zeroline=False,
                minor=dict(tickvals=[0, 10, 30, 40, 60, 70, 90, 100], showgrid=True, gridcolor='#d2d2d2',
                           griddash='dash', ticklen=0), **frame),
)

for lvl, dash in ((20, 'solid'), (50, 'dashdot'), (80, 'solid')):
    fig.add_shape(type='line', xref='x3 domain', x0=0, x1=1, yref='y3', y0=lvl, y1=lvl, layer='below',
                  line=dict(color='#9a9a9a', width=1, dash=dash))


def ptext(px, py, text, size, color='#000', anchor='left', family='Arial'):
    # px, py are pixels of the 894x685 figure; plot area spans x 8..847, y 26..682
    fig.add_annotation(xref='paper', yref='paper', x=(px - 8) / 839, y=(682 - py) / 656, text=text,
                       showarrow=False, xanchor=anchor, yanchor='middle',
                       font=dict(family=family, size=size, color=color))


ptext(6, 8, '<b>$VIX</b>', 15)
ptext(41, 9, '(Volatility Index - New Methodology)', 10.3)
ptext(219, 9, 'INDX', 10.3)
ptext(7, 22, '1-Oct-2012 3:38pm', 11)
ptext(849, 8, '© StockCharts.com', 11, color='#444', anchor='right')
ptext(851, 21, '<b>Open</b> 16.03  <b>High</b> 16.53  <b>Low</b> 15.13  <b>Last</b> 16.34  <b>Chg</b> +0.61 (+3.88%) '
      '<span style="color:#1f9a1f">▲</span>', 11.5, anchor='right')
ptext(9, 34.5, '<b>—</b> MACD(12,26,9) -0.119<span style="color:#ee1111">, -0.321</span>'
      '<span style="color:#3f8fc0">, 0.202</span>', 11, family='DejaVu Sans')
ptext(-1, 166.5, '46', 10, family='DejaVu Sans')
ptext(25, 166.5, '$VIX (Daily) 16.34', 11, family='DejaVu Sans')
ptext(21, 177.5, 'BB(20,2.0) 12.86 - 15.34 - 17.82', 9, color='#9a35a8', family='DejaVu Sans')
ptext(9, 558, '<b>—</b> Slow STO %K(60) %D(3) 30.35<span style="color:#ee1111">, 31.27</span>', 11,
      family='DejaVu Sans')
ptext(352, 546, '<b>HEAD</b>', 11, color='#1133dd', anchor='center')

for t, d, p in zip(tag_text, tag_day, tag_at):
    fig.add_annotation(x=d, y=np.log10(p), xref='x', yref='y', text=t, showarrow=False,
                       font=dict(family='Arial', size=9, color='#111'), bgcolor='white',
                       bordercolor='#b5b5b5', borderwidth=1, borderpad=1)
for t, d, p in (('LS', 85.3, 14.5), ('RS', 143.0, 14.45)):
    fig.add_annotation(x=d, y=np.log10(p), xref='x', yref='y', text='<b>%s</b>' % t, showarrow=False,
                       font=dict(family='Arial', size=12, color='#1133dd'))

# drop the browser's default 8px body margin so the figure sits at the window's corner,
# and hide the mode bar that would cover the header text
fig.write_html("out.html", config={'displayModeBar': False},
               post_script="document.body.style.margin='0px';")
